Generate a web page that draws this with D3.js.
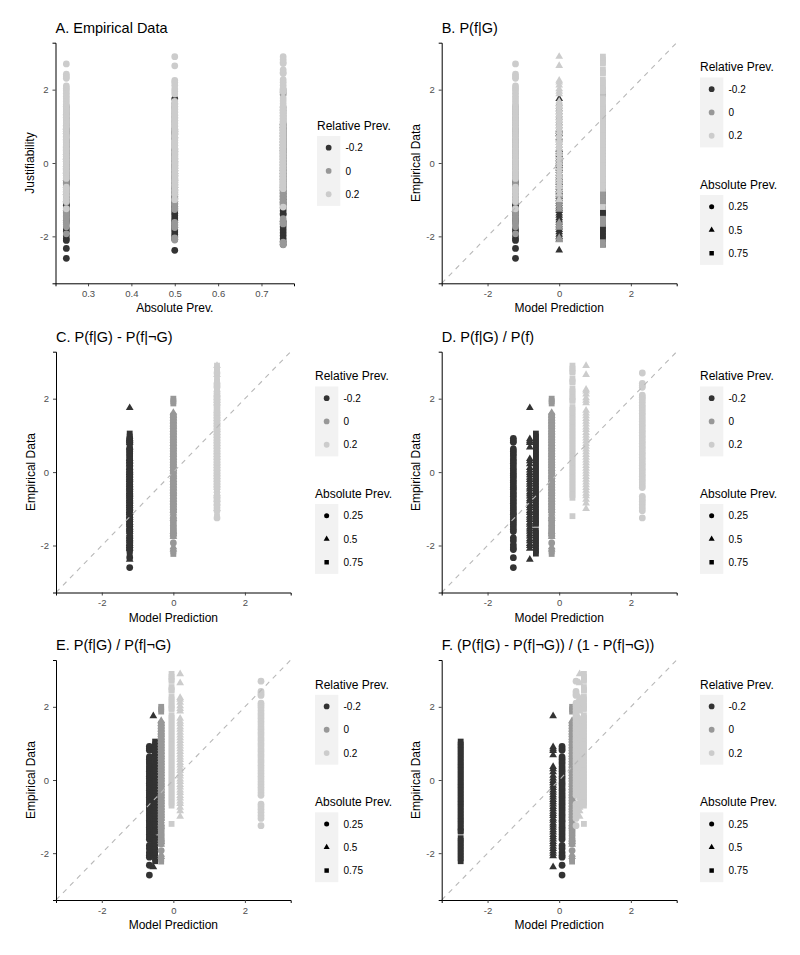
<!DOCTYPE html>
<html>
<head>
<meta charset="utf-8">
<script src="https://cdn.jsdelivr.net/npm/d3@7"></script>
<style>
  body { margin: 0; background: #fff; }
  svg { display: block; font-family: "Liberation Sans", Arial, sans-serif; }
</style>
</head>
<body>
<svg width="800" height="955"></svg>
<script>
// factor levels
const relPrev = [-0.2, 0, 0.2];
const absPrev = [0.25, 0.5, 0.75];
const relLabels = ['-0.2', '0', '0.2'];
const absLabels = ['0.25', '0.5', '0.75'];

// justifiability scores per condition
const scoresRelLow25 = [0.92, 0.86, 0.81, 0.63, 0.57, 0.5, 0.44, 0.36, 0.3, 0.24, 0.17, 0.1, 0.04, -0.03, -0.09, -0.15, -0.22, -0.28, -0.35, -0.41, -0.47, -0.54, -0.6, -0.66, -0.73, -0.79, -0.85, -0.92, -0.98, -1.04, -1.11, -1.15, -1.22, -1.29, -1.35, -1.42, -1.49, -1.56, -1.62, -1.79, -1.87, -1.98, -2.06, -2.11, -2.33, -2.6];
const scoresRelLow50 = [1.75, 0.9, 0.85, 0.8, 0.68, 0.36, 0.3, 0.22, 0.12, 0.05, -0.02, -0.08, -0.15, -0.21, -0.28, -0.34, -0.41, -0.47, -0.54, -0.6, -0.66, -0.73, -0.79, -0.86, -0.92, -0.98, -1.05, -1.11, -1.18, -1.24, -1.3, -1.37, -1.43, -1.5, -1.56, -1.62, -1.69, -1.75, -1.82, -1.88, -1.95, -2.01, -2.08, -2.38];
const scoresRelLow75 = [1.05, 0.97, 0.9, 0.82, 0.74, 0.66, 0.58, 0.5, 0.42, 0.35, 0.27, 0.19, 0.11, 0.03, -0.05, -0.13, -0.2, -0.28, -0.36, -0.44, -0.52, -0.6, -0.67, -0.75, -0.83, -0.91, -0.99, -1.07, -1.14, -1.22, -1.3, -1.38, -1.41, -1.59, -1.66, -1.74, -1.82, -1.9, -1.98, -2.06, -2.14, -2.22];
const scoresRelMid25 = [1.55, 1.48, 1.4, 1.33, 1.25, 1.18, 1.1, 1.03, 0.95, 0.88, 0.8, 0.73, 0.65, 0.58, 0.5, 0.43, 0.35, 0.28, 0.2, 0.13, 0.05, -0.02, -0.1, -0.17, -0.25, -0.32, -0.4, -0.47, -0.55, -0.62, -0.7, -0.77, -0.85, -0.92, -1.0, -1.07, -1.24, -1.31, -1.38, -1.45, -1.52, -1.6, -1.67, -1.74, -1.93];
const scoresRelMid50 = [1.62, 1.54, 1.47, 1.39, 1.31, 1.24, 1.16, 1.09, 1.01, 0.93, 0.86, 0.78, 0.7, 0.63, 0.55, 0.48, 0.4, 0.32, 0.25, 0.17, 0.09, 0.02, -0.06, -0.13, -0.21, -0.29, -0.36, -0.44, -0.52, -0.59, -0.67, -0.75, -0.82, -0.9, -0.97, -1.05, -1.12, -1.2, -1.27, -1.62, -1.69, -1.76, -2.04, -2.1];
const scoresRelMid75 = [2.0, 1.93, 1.87, 1.52, 1.44, 1.36, 1.28, 1.2, 1.12, 1.04, 0.96, 0.88, 0.8, 0.72, 0.64, 0.56, 0.48, 0.4, 0.32, 0.24, 0.16, 0.08, 0, -0.08, -0.16, -0.24, -0.32, -0.4, -0.48, -0.56, -0.64, -0.72, -0.8, -0.88, -0.96, -1.04, -1.1, -1.52, -1.6, -1.66, -2.16, -2.23];
const scoresRelHigh25 = [2.7, 2.42, 2.36, 2.31, 2.1, 2.04, 1.98, 1.9, 1.82, 1.75, 1.68, 1.6, 1.53, 1.45, 1.38, 1.3, 1.23, 1.15, 1.08, 1.0, 0.93, 0.85, 0.78, 0.7, 0.63, 0.55, 0.48, 0.4, 0.33, 0.25, 0.18, 0.1, 0.03, -0.05, -0.12, -0.2, -0.27, -0.35, -0.42, -0.66, -0.73, -0.8, -0.88, -0.97, -1.05, -1.25];
const scoresRelHigh50 = [2.9, 2.65, 2.25, 2.2, 2.12, 2.02, 1.95, 1.88, 1.68, 1.6, 1.53, 1.45, 1.38, 1.3, 1.22, 1.15, 1.07, 1.0, 0.92, 0.85, 0.77, 0.7, 0.62, 0.55, 0.47, 0.4, 0.32, 0.25, 0.17, 0.1, 0.02, -0.05, -0.13, -0.2, -0.28, -0.35, -0.43, -0.5, -0.58, -0.65, -0.75, -0.85, -1.0];
const scoresRelHigh75 = [2.9, 2.82, 2.75, 2.71, 2.54, 2.47, 2.44, 2.27, 2.2, 2.12, 2.04, 1.97, 1.94, 1.77, 1.7, 1.62, 1.54, 1.46, 1.38, 1.3, 1.22, 1.14, 1.06, 0.98, 0.9, 0.82, 0.74, 0.66, 0.58, 0.5, 0.42, 0.34, 0.26, 0.18, 0.1, 0.02, -0.06, -0.14, -0.22, -0.3, -0.38, -0.46, -0.54, -0.62, -0.7, -1.2];

// model predictions, same condition order (rel -0.2: abs .25/.5/.75, rel 0: ..., rel 0.2: ...)
const predB = [-1.22, 0, 1.22, -1.22, 0, 1.22, -1.22, 0, 1.22];
const predC = [-1.22, -1.22, -1.22, 0, 0, 0, 1.22, 1.22, 1.22];
const predD = [-1.28, -0.82, -0.65, -0.21, -0.21, -0.21, 2.32, 0.75, 0.37];
const predE = [-0.67, -0.56, -0.51, -0.34, -0.34, -0.34, 2.45, 0.19, -0.05];
const predF = [0.08, -0.17, -2.75, 0.36, 0.36, 0.36, 0.47, 0.57, 0.69];

const scores = [
  scoresRelLow25, scoresRelLow50, scoresRelLow75,
  scoresRelMid25, scoresRelMid50, scoresRelMid75,
  scoresRelHigh25, scoresRelHigh50, scoresRelHigh75
];

let conditions = [];
relPrev.forEach((r, ri) => {
  absPrev.forEach((a, ai) => {
    conditions.push({ rel: r, abs: a, ys: scores[ri * 3 + ai] });
  });
});

const panels = [
  { title: 'A. Empirical Data', box: [55.5, 42.7, 294, 283.3], legendX: 317, xTitle: 'Absolute Prev.', yTitle: 'Justifiability', pred: null },
  { title: 'B. P(f|G)', box: [441.7, 42.7, 676.7, 283.3], legendX: 700, pred: predB },
  { title: 'C. P(f|G) - P(f|¬G)', box: [56, 351.7, 290.7, 592.5], legendX: 315, pred: predC },
  { title: 'D. P(f|G) / P(f)', box: [441.7, 351.7, 676.7, 592.5], legendX: 700, pred: predD },
  { title: 'E. P(f|G) / P(f|¬G)', box: [56, 660, 290.7, 900], legendX: 315, pred: predE },
  { title: 'F. (P(f|G) - P(f|¬G)) / (1 - P(f|¬G))', box: [441.7, 660, 676.7, 900], legendX: 700, pred: predF }
];

const svg = d3.select('svg');

let color = d3.scaleOrdinal().domain(relPrev).range(['#333333', '#989898', '#cccccc']);
let shape = d3.scaleOrdinal().domain(absPrev).range([d3.symbolCircle, d3.symbolTriangle, d3.symbolSquare]);
let shapeSize = d3.scaleOrdinal().domain(absPrev).range([36, 26, 34]);

const lim = 3.28;

panels.forEach(p => {
  let [x0, y0, x1, y1] = p.box;
  let g = svg.append('g');

  let x = p.pred
    ? d3.scaleLinear().domain([-lim, lim]).range([x0, x1])
    : d3.scaleLinear().domain([0.225, 0.775]).range([x0, x1]);
  let y = d3.scaleLinear().domain([-lim, lim]).range([y1, y0]);

  // points
  let pts = [];
  conditions.forEach((c, ci) => {
    let xv = p.pred ? p.pred[ci] : c.abs;
    c.ys.forEach(v => pts.push({ x: xv, y: v, c: c }));
  });

  g.append('g').selectAll('path')
    .data(pts)
    .enter().append('path')
    .attr('transform', d => `translate(${x(d.x)},${y(d.y)})`)
    .attr('d', d => p.pred
      ? d3.symbol().type(shape(d.c.abs)).size(shapeSize(d.c.abs))()
      : d3.symbol().type(d3.symbolCircle).size(36)())
    .attr('fill', d => color(d.c.rel));

  // identity line
  if (p.pred) {
    g.append('line')
      .attr('x1', x(-lim)).attr('y1', y(-lim))
      .attr('x2', x(lim)).attr('y2', y(lim))
      .attr('stroke', '#b8b8b8')
      .attr('stroke-width', 1.1)
      .attr('stroke-dasharray', '5,5');
  }

  // axes
  let xAxis = d3.axisBottom(x).tickSizeOuter(0).tickSize(3).tickPadding(4)
    .tickValues(p.pred ? [-2, 0, 2] : [0.3, 0.4, 0.5, 0.6, 0.7])
    .tickFormat(d => p.pred ? String(d) : d3.format('.1f')(d));
  let yAxis = d3.axisLeft(y).tickSizeOuter(0).tickSize(3).tickPadding(4)
    .tickValues([-2, 0, 2]).tickFormat(d => String(d));

  [g.append('g').attr('transform', `translate(0,${y1})`).call(xAxis),
   g.append('g').attr('transform', `translate(${x0},0)`).call(yAxis)].forEach(ax => {
    ax.select('.domain').attr('stroke', '#000').attr('stroke-width', 1);
    ax.selectAll('.tick line').attr('stroke', '#333').attr('stroke-width', 0.9);
    ax.selectAll('.tick text')
      .attr('fill', '#4d4d4d')
      .style('font-size', '9.5px')
      .style('font-family', '"Liberation Sans", Arial, sans-serif');
  });

  // titles
  g.append('text')
    .attr('x', x0).attr('y', y0 - 10)
    .style('font-size', '14.5px')
    .text(p.title);

  g.append('text')
    .attr('x', (x0 + x1) / 2).attr('y', y1 + 29)
    .attr('text-anchor', 'middle')
    .style('font-size', '12px')
    .text(p.xTitle || 'Model Prediction');

  g.append('text')
    .attr('transform', `translate(${x0 - 21.5},${(y0 + y1) / 2}) rotate(-90)`)
    .attr('text-anchor', 'middle')
    .style('font-size', '12px')
    .text(p.yTitle || 'Empirical Data');

  // legends
  let keyH = 23.3;
  let drawLegend = (titleY, title, labels, keyFn) => {
    let lg = g.append('g');
    lg.append('text')
      .attr('x', p.legendX).attr('y', titleY)
      .style('font-size', '12px')
      .text(title);
    let bgTop = titleY + 6.3;
    lg.append('rect')
      .attr('x', p.legendX).attr('y', bgTop)
      .attr('width', keyH).attr('height', keyH * labels.length)
      .attr('fill', '#f2f2f2');
    labels.forEach((lab, i) => {
      let cy = bgTop + keyH / 2 + i * keyH;
      keyFn(lg.append('path').attr('transform', `translate(${p.legendX + keyH / 2},${cy})`), i);
      lg.append('text')
        .attr('x', p.legendX + 28.5).attr('y', cy + 3.6)
        .style('font-size', '10px')
        .text(lab);
    });
  };

  let relKey = (el, i) => el.attr('d', d3.symbol().type(d3.symbolCircle).size(26)()).attr('fill', color(relPrev[i]));
  let absKey = (el, i) => el.attr('d', d3.symbol().type(shape(absPrev[i])).size([20, 16, 20][i])()).attr('fill', '#000');

  if (p.pred) {
    drawLegend(y0 + 28.5, 'Relative Prev.', relLabels, relKey);
    drawLegend(y0 + 146, 'Absolute Prev.', absLabels, absKey);
  } else {
    drawLegend(y0 + 87, 'Relative Prev.', relLabels, relKey);
  }
});
</script>
</body>
</html>
